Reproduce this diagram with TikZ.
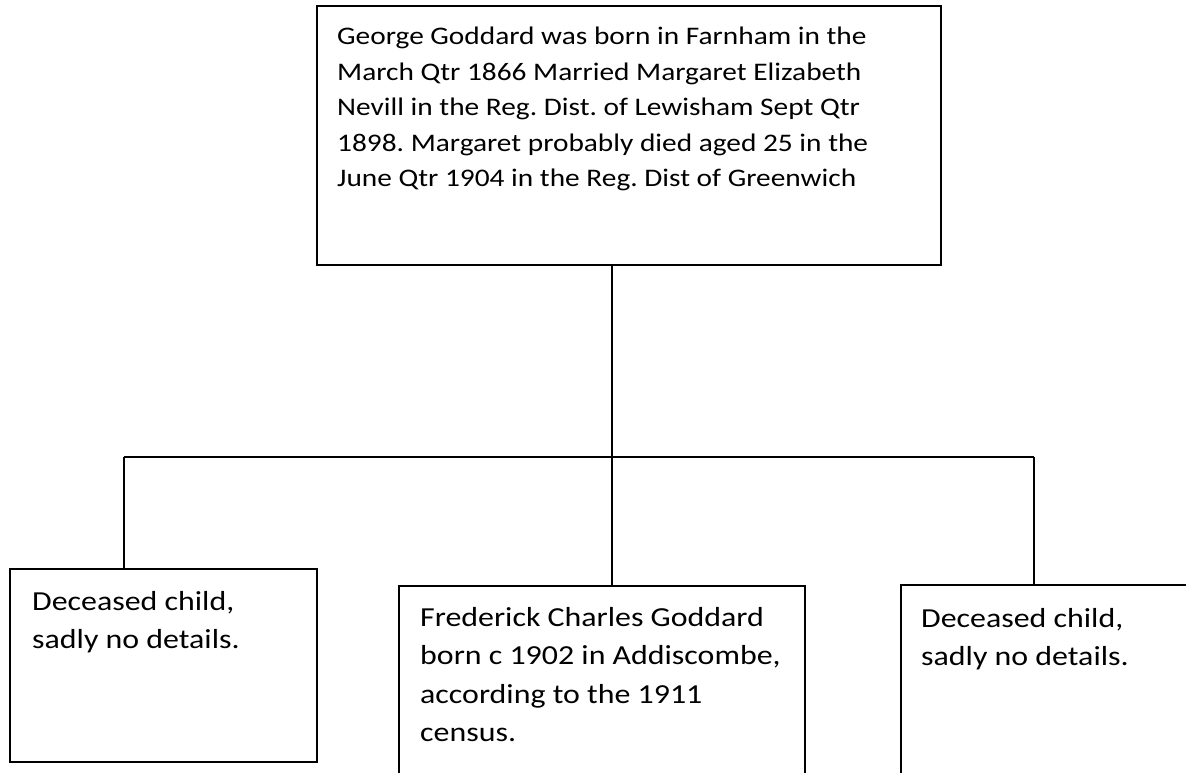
\documentclass[tikz,border=0pt]{standalone}
\usepackage{fontspec}
\setmainfont{Carlito}[FakeStretch=1.16]
\frenchspacing
\begin{document}
\begin{tikzpicture}[x=1pt,y=-1pt,
  box/.style={draw=black,line width=1.6pt,rectangle,inner sep=0pt,anchor=north west},
  link/.style={draw=black,line width=1.6pt},
  toptxt/.style={inner sep=0pt,anchor=base west,font=\fontsize{25.3}{35.5}\selectfont},
  kidtxt/.style={inner sep=0pt,anchor=base west,font=\fontsize{27.5}{38.5}\selectfont}]
\useasboundingbox (0,0) rectangle (1186,773);
\clip (0,0) rectangle (1186,773);
% boxes
\node[box,minimum width=624pt,minimum height=259pt] (top) at (316,5) {};
\node[box,minimum width=307pt,minimum height=193pt] (left) at (9,568) {};
\node[box,minimum width=406pt,minimum height=230pt] (mid) at (398,585) {};
\node[box,minimum width=320pt,minimum height=230pt] (right) at (900,584) {};
% texts
\node[toptxt] (toptext) at (337,45) {\parbox[t]{600pt}{\raggedright George Goddard was born in Farnham in the\\March Qtr 1866 Married Margaret Elizabeth\\Nevill in the Reg. Dist. of Lewisham Sept Qtr\\1898. Margaret probably died aged 25 in the\\June Qtr 1904 in the Reg. Dist of Greenwich}};
\node[kidtxt] (lefttext) at (32,610) {\parbox[t]{280pt}{\raggedright Deceased child,\\sadly no details.}};
\node[kidtxt] (midtext) at (420,626) {\parbox[t]{380pt}{\raggedright Frederick Charles Goddard\\born c 1902 in Addiscombe,\\according to the 1911\\census.}};
\node[kidtxt] (righttext) at (921,627) {\parbox[t]{260pt}{\raggedright Deceased child,\\sadly no details.}};
% connectors
\coordinate (jl) at (124,457);
\coordinate (jm) at (612,457);
\coordinate (jr) at (1034,457);
\draw[link] (jm |- top.south) -- (jm);
\draw[link] (jl) -- (jr);
\draw[link] (jl) -- (jl |- left.north);
\draw[link] (jm) -- (jm |- mid.north);
\draw[link] (jr) -- (jr |- right.north);
\end{tikzpicture}
\end{document}
